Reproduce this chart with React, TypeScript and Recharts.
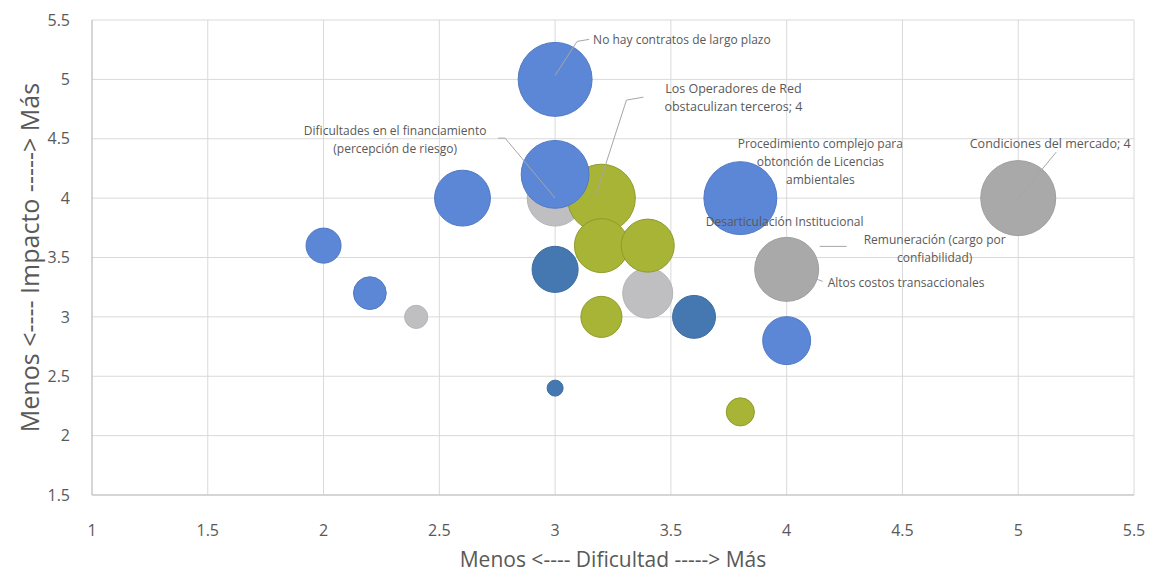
import { ScatterChart, Scatter, XAxis, YAxis, ZAxis, CartesianGrid } from 'recharts'

// bubble series: x = dificultad, y = impacto, z = tamaño
const blueX = [3, 3, 2.6, 2, 2.2, 3.8, 4]
const blueY = [5, 4.2, 4, 3.6, 3.2, 4, 2.8]
const blueZ = [21.4, 18, 12.2, 4.8, 4.2, 20.8, 9]

const darkBlueX = [3, 3.6, 3]
const darkBlueY = [3.4, 3, 2.4]
const darkBlueZ = [8.3, 7.2, 1]

const oliveX = [3.2, 3.2, 3.4, 3.2, 3.8]
const oliveY = [4, 3.6, 3.6, 3, 2.2]
const oliveZ = [18, 11.4, 11, 6.6, 3.1]

const lightGrayX = [3, 2.4, 3.4]
const lightGrayY = [4, 3, 3.2]
const lightGrayZ = [12.2, 2.1, 9.8]

const grayX = [4, 5]
const grayY = [3.4, 4]
const grayZ = [16, 22]

const xTicks = [1, 1.5, 2, 2.5, 3, 3.5, 4, 4.5, 5, 5.5]
const yTicks = [1.5, 2, 2.5, 3, 3.5, 4, 4.5, 5, 5.5]

// labelled points
const labelX = [3, 3.2, 3, 3.8, 5, 4, 4, 4]
const labelY = [5, 4, 4, 4, 4, 3.4, 3.4, 3.4]
const labelText = [
  ['No hay contratos de largo plazo'],
  ['Los Operadores de Red', 'obstaculizan terceros; 4'],
  ['Dificultades en el financiamiento', '(percepción de riesgo)'],
  ['Procedimiento complejo para', 'obtonción de Licencias', 'ambientales'],
  ['Condiciones del mercado; 4'],
  ['Desarticulación Institucional'],
  ['Remuneración (cargo por', 'confiabilidad)'],
  ['Altos costos transaccionales'],
]

// label placement relative to the bubble centre (px)
const labelLayout = [
  { dx: 38, dy: -40, anchor: 'start', size: 12, leader: [[0, -4], [22, -38], [34, -40]] },
  { dx: 132, dy: -110, anchor: 'middle', size: 12.5, leader: [[-5, -5], [25, -98], [42, -101]] },
  { dx: -160, dy: -68, anchor: 'middle', size: 12, leader: [[0, 0], [-50, -60], [-57, -60]] },
  { dx: 80, dy: -55, anchor: 'middle', size: 12, leader: [] },
  { dx: 32, dy: -55, anchor: 'middle', size: 12.5, leader: [[0, 0], [38, -46]] },
  { dx: -2, dy: -48, anchor: 'middle', size: 12, leader: [] },
  { dx: 148, dy: -30, anchor: 'middle', size: 12, leader: [[33, -23], [60, -23]] },
  { dx: 41, dy: 13, anchor: 'start', size: 12, leader: [[28, 9], [36, 12]] },
]

const build = (xs: number[], ys: number[], zs: number[]) =>
  xs.map((x, i) => ({ x, y: ys[i], z: zs[i] }))

const blue = build(blueX, blueY, blueZ)
const darkBlue = build(darkBlueX, darkBlueY, darkBlueZ)
const olive = build(oliveX, oliveY, oliveZ)
const lightGray = build(lightGrayX, lightGrayY, lightGrayZ)
const gray = build(grayX, grayY, grayZ)
const labels = labelX.map((x, i) => ({ x, y: labelY[i], idx: i }))

const FONT = "'Open Sans', 'Liberation Sans', sans-serif"
const TEXT = '#595959'

function LabelShape(props: any) {
  const { cx, cy, payload } = props
  const lay = labelLayout[payload.idx]
  const lines = labelText[payload.idx]
  const lh = lay.size * 1.5
  return (
    <g>
      {lay.leader.length > 1 && (
        <polyline
          points={lay.leader.map((p) => `${cx + p[0]},${cy + p[1]}`).join(' ')}
          fill="none"
          stroke="#A6A6A6"
          strokeWidth={1}
        />
      )}
      {lines.map((t, i) => (
        <text
          key={i}
          x={cx + lay.dx}
          y={cy + lay.dy + i * lh}
          textAnchor={lay.anchor as any}
          dominantBaseline="central"
          fontSize={lay.size}
          fontFamily={FONT}
          fill={TEXT}
        >
          {t}
        </text>
      ))}
    </g>
  )
}

export default function App() {
  return (
    <div style={{ position: 'fixed', left: 0, top: 0, background: '#fff' }}>
      <ScatterChart width={1152} height={573} margin={{ top: 20, right: 18, left: 0, bottom: 0 }}>
        <CartesianGrid stroke="#D9D9D9" />
        <XAxis
          type="number"
          dataKey="x"
          domain={[1, 5.5]}
          ticks={xTicks}
          height={78}
          tickLine={false}
          tickSize={0}
          tickMargin={30}
          axisLine={{ stroke: '#BFBFBF' }}
          tick={{ fill: TEXT, fontSize: 16, fontFamily: FONT }}
          label={{
            value: 'Menos <----  Dificultad -----> Más',
            position: 'insideBottom',
            offset: 6,
            fill: TEXT,
            fontSize: 21,
            fontFamily: FONT,
          }}
        />
        <YAxis
          type="number"
          dataKey="y"
          domain={[1.5, 5.5]}
          ticks={yTicks}
          width={92}
          tickLine={false}
          tickSize={0}
          tickMargin={22}
          axisLine={{ stroke: '#BFBFBF' }}
          tick={{ fill: TEXT, fontSize: 16, fontFamily: FONT }}
          label={{
            value: 'Menos <----  Impacto -----> Más',
            angle: -90,
            position: 'center',
            dx: -16,
            fill: TEXT,
            fontSize: 25,
            fontFamily: FONT,
          }}
        />
        <ZAxis type="number" dataKey="z" domain={[0, 22]} range={[0, 4418]} />
        <Scatter data={lightGray} fill="#BFBFC1" stroke="#B5B5B7" isAnimationActive={false} />
        <Scatter data={gray} fill="#A9A9A9" stroke="#9E9E9E" isAnimationActive={false} />
        <Scatter data={olive} fill="#A8B436" stroke="#8F9A2C" isAnimationActive={false} />
        <Scatter data={darkBlue} fill="#4578B0" stroke="#3D6CA0" isAnimationActive={false} />
        <Scatter data={blue} fill="#5B87D6" stroke="#5079C4" isAnimationActive={false} />
        <Scatter data={labels} shape={LabelShape} isAnimationActive={false} />
      </ScatterChart>
    </div>
  )
}
